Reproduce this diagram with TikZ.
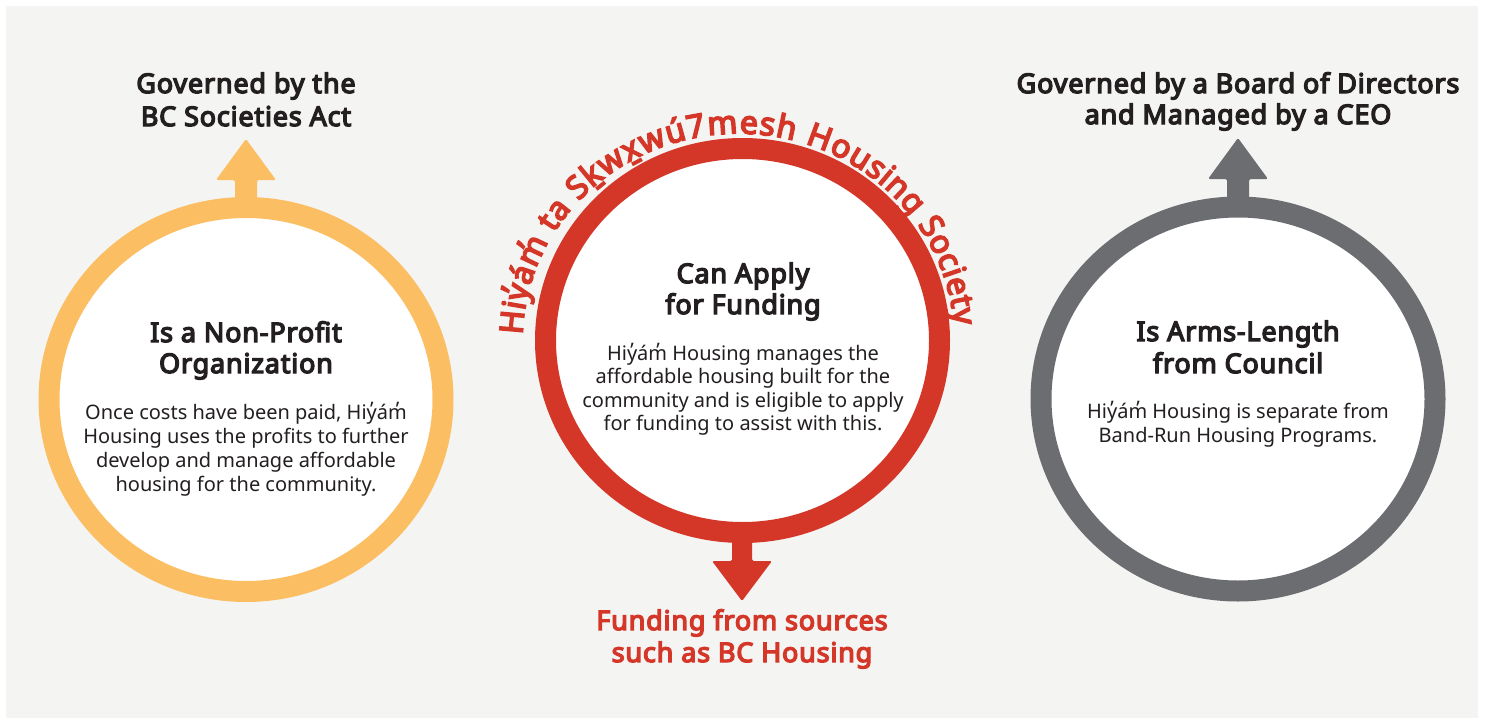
\documentclass[tikz,border=0pt]{standalone}
\usepackage{fontspec}
\setmainfont{Noto Sans}[BoldFont={Noto Sans},BoldFeatures={FakeBold=5,LetterSpace=3}]
\usetikzlibrary{calc}
\definecolor{bgc}{HTML}{F4F4F2}
\definecolor{yel}{HTML}{FCBE63}
\definecolor{redc}{HTML}{D43628}
\definecolor{grayc}{HTML}{6C6D71}
\definecolor{txt}{HTML}{231F20}
\newdimen\arcsum
\def\arcsz{33}
\newcommand\arcfont{\fontsize{\arcsz}{\arcsz}\bfseries}
\def\arcitems{H,i,y̓,á,m̓,~,t,a,~,S,ḵ,w,x̱,w,ú,7,m,e,s,h,~,H,o,u,s,i,n,g,~,S,o,c,i,e,t,y}
\tikzset{
  lbl/.style={font=\fontsize{27}{27}\bfseries, text=txt, anchor=base, inner sep=0pt},
  redlbl/.style={lbl, text=redc},
  bd/.style={font=\fontsize{20}{20}\selectfont, text=txt, anchor=base, inner sep=0pt},
  arct/.style={font=\arcfont, text=redc, anchor=base, inner sep=0pt},
  ring/.style={line width=21pt},
}
\begin{document}
% measure arc text outside the picture, scale font to fill the arc
\global\arcsum=0pt
\foreach \ch in \arcitems {\setbox0=\hbox{\arcfont\ch}\global\advance\arcsum by \wd0}
\pgfmathsetmacro\newsz{33*(618/\the\arcsum)}
\xdef\arcsz{\newsz}
\global\arcsum=0pt
\foreach \ch in \arcitems {\setbox0=\hbox{\arcfont\ch}\global\advance\arcsum by \wd0}
\pgfmathsetmacro\totw{\the\arcsum}
\global\let\arctotw\totw
\global\arcsum=0pt
\foreach \ch [count=\k] in \arcitems {%
  \setbox0=\hbox{\arcfont\ch}%
  \pgfmathsetmacro\frac{(\the\arcsum + 0.5*\the\wd0)/\arctotw}%
  \pgfmathsetmacro\mid{178.5 - 174.4*\frac}%
  \expandafter\xdef\csname arcang\k\endcsname{\mid}%
  \global\advance\arcsum by \wd0
}%
\begin{tikzpicture}[x=1pt,y=-1pt]
\useasboundingbox (0,0) rectangle (1486,718);
\fill[white] (0,0) rectangle (1486,718);
\fill[bgc] (6,6) rectangle (1478,718);
% centres
\coordinate (yc) at (246,399.5);
\coordinate (rc) at (742.5,340.5);
\coordinate (gc) at (1238,399);
\coordinate (tc) at (738.5,340.5);
% arrows
\fill[yel, rounded corners=1.5pt] (235,210) -- (235,180) -- (216,180) -- (246,139) -- (276,180) -- (257,180) -- (257,210) -- cycle;
\fill[grayc, rounded corners=1.5pt] (1227,210) -- (1227,179) -- (1208,179) -- (1238,138) -- (1268,179) -- (1249,179) -- (1249,210) -- cycle;
\fill[redc, rounded corners=1.5pt] (732,530) -- (732,561) -- (712,561) -- (742,601) -- (772,561) -- (752,561) -- (752,530) -- cycle;
% rings
\draw[ring, draw=yel, fill=white] (yc) ellipse [x radius=197, y radius=192];
\draw[ring, draw=redc, fill=white] (rc) ellipse [x radius=197, y radius=192];
\draw[ring, draw=grayc, fill=white] (gc) ellipse [x radius=197, y radius=192];
% top / bottom labels
\node[lbl] (yt1) at (246,93) {Governed by the};
\node[lbl] (yt2) at (246,126) {BC Societies Act};
\node[lbl] (gt1) at (1238,93) {Governed by a Board of Directors};
\node[lbl] (gt2) at (1238,124) {and Managed by a CEO};
\node[redlbl] (rb1) at (742,630) {Funding from sources};
\node[redlbl] (rb2) at (742,662) {such as BC Housing};
% yellow circle text
\node[lbl] (yh1) at (246,342) {Is a Non-Profit};
\node[lbl] (yh2) at (246,373) {Organization};
\node[bd] (yb1) at (246,419) {Once costs have been paid, Hiy̓ám̓};
\node[bd] (yb2) at (246,443) {Housing uses the profits to further};
\node[bd] (yb3) at (246,467) {develop and manage affordable};
\node[bd] (yb4) at (246,491) {housing for the community.};
% red circle text
\node[lbl] (rh1) at (743,283) {Can Apply};
\node[lbl] (rh2) at (743,314) {for Funding};
\node[bd] (rb1x) at (743,360) {Hiy̓ám̓ Housing manages the};
\node[bd] (rb2x) at (743,383) {affordable housing built for the};
\node[bd] (rb3x) at (743,407) {community and is eligible to apply};
\node[bd] (rb4x) at (743,430) {for funding to assist with this.};
% gray circle text
\node[lbl] (gh1) at (1238,341) {Is Arms-Length};
\node[lbl] (gh2) at (1238,373) {from Council};
\node[bd] (gb1) at (1238,418) {Hiy̓ám̓ Housing is separate from};
\node[bd] (gb2) at (1238,442) {Band-Run Housing Programs.};
% arc text
\foreach \ch [count=\k] in \arcitems {
  \pgfmathsetmacro\mid{\csname arcang\k\endcsname}
  \pgfmathsetmacro\nrm{atan2(216*sin(\mid),207*cos(\mid))}
  \node[arct, rotate=\nrm-90] (arc\k) at ($(tc)+(\mid:216pt and 207pt)$) {\ch};
}
\end{tikzpicture}
\end{document}
